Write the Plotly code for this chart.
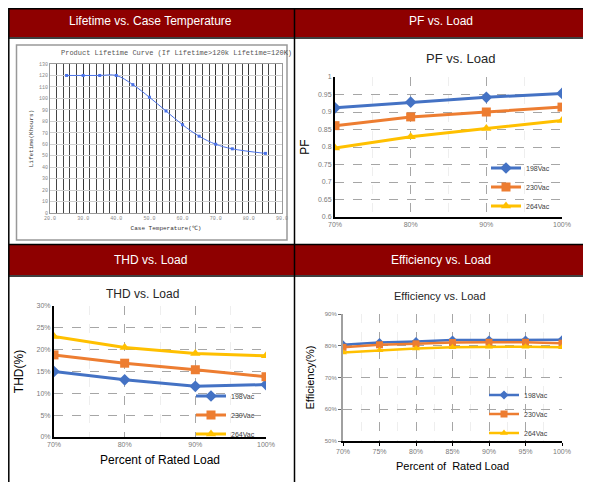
import plotly.graph_objects as go

# ---- data ----
temp = [25, 30, 35, 40, 45, 50, 55, 60, 65, 70, 75, 85]
lifetime = [120, 120, 120, 120, 112, 101, 89, 77, 67, 60, 56, 52]

load4 = [70, 80, 90, 100]
pf_198 = [0.912, 0.928, 0.942, 0.953]
pf_230 = [0.861, 0.886, 0.900, 0.914]
pf_264 = [0.797, 0.829, 0.853, 0.876]

thd_198 = [15.0, 13.1, 11.6, 12.0]
thd_230 = [18.8, 16.9, 15.4, 13.8]
thd_264 = [23.0, 20.5, 19.1, 18.6]

load7 = [70, 75, 80, 85, 90, 95, 100]
eff_198 = [80.3, 81.0, 81.3, 81.8, 81.8, 81.8, 81.9]
eff_230 = [79.5, 80.3, 80.6, 81.0, 81.1, 81.1, 80.8]
eff_264 = [77.9, 78.6, 79.1, 79.5, 79.7, 79.7, 79.5]

series_names = ['198Vac', '230Vac', '264Vac']
series_colors = ['#4472C4', '#ED7D31', '#FFC000']
series_symbols = ['diamond', 'square', 'triangle-up']

# page has an 8px body margin, so the figure is sized to fit the 591x490 window
OFF = 8
W, H = 591 - 2 * OFF, 490 - 2 * OFF
RED = '#8e0000'


def X(px):
    return (px - OFF) / W


def Y(py):
    return 1 - (py - OFF) / H


fig = go.Figure()

# lifetime curve
fig.add_trace(go.Scatter(x=temp, y=lifetime, mode='lines+markers',
                         line=dict(color='#4a72e8', width=1, shape='spline'),
                         marker=dict(symbol='square', size=3, color='#4a72e8'),
                         showlegend=False, xaxis='x', yaxis='y'))

# PF / THD / efficiency
groups = [
    (load4, [pf_198, pf_230, pf_264], 'x2', 'y2', 'legend', 9, 3),
    (load4, [thd_198, thd_230, thd_264], 'x3', 'y3', 'legend2', 9, 3),
    (load7, [eff_198, eff_230, eff_264], 'x4', 'y4', 'legend3', 7, 2.5),
]
for xs, ys, xa, ya, lg, msize, lw in groups:
    for name, vals, col, sym in zip(series_names, ys, series_colors, series_symbols):
        fig.add_trace(go.Scatter(x=xs, y=vals, name=name, mode='lines+markers',
                                 line=dict(color=col, width=lw),
                                 marker=dict(symbol=sym, size=msize, color=col),
                                 xaxis=xa, yaxis=ya, legend=lg))

tick_grey = '#7a7a7a'
dash_grid = dict(showgrid=True, gridcolor='#a6a6a6', griddash='dash', gridwidth=1)

leg_common = dict(xanchor='left', yanchor='middle', bgcolor='rgba(0,0,0,0)',
                  font=dict(size=7, color='#404040', family='Arial'),
                  tracegroupgap=0, itemwidth=30)

fig.update_layout(
    width=W, height=H,
    margin=dict(l=0, r=0, t=0, b=0, autoexpand=False),
    paper_bgcolor='white', plot_bgcolor='white',
    font=dict(family='Arial'),
    # lifetime
    xaxis=dict(domain=[X(50), X(282)], range=[20, 90], dtick=10, tickformat='.1f',
               tickfont=dict(size=5, color='#888', family='Liberation Mono'),
               showgrid=True, gridcolor='#333333', gridwidth=1.3,
               minor=dict(dtick=2, showgrid=True, gridcolor='#444444', gridwidth=1.3),
               showline=True, linecolor='#999', mirror=True, zeroline=False,
               ticks='', title=dict(text='Case Temperature(℃)', standoff=4,
                                    font=dict(size=6, color='#333', family='Liberation Mono'))),
    yaxis=dict(domain=[Y(213), Y(64)], range=[0, 130], dtick=10,
               tickfont=dict(size=5, color='#888', family='Liberation Mono'),
               showgrid=True, gridcolor='#d0d0d0', zeroline=False,
               showline=True, linecolor='#999', mirror=True, ticks='',
               title=dict(text='Lifetime(Khours)', standoff=4,
                          font=dict(size=6, color='#333', family='Liberation Mono'))),
    # PF
    xaxis2=dict(domain=[X(335), X(562)], range=[70, 100], dtick=10, ticksuffix='%',
                anchor='y2', tickfont=dict(size=7, color=tick_grey), zeroline=False,
                showline=True, linecolor='black', linewidth=2, ticks='',
                minor=dict(dtick=5, showgrid=True, gridcolor='#eeeeee'), **dash_grid),
    yaxis2=dict(domain=[Y(217), Y(77)], range=[0.6, 1.0], dtick=0.05, anchor='x2',
                tickfont=dict(size=7, color=tick_grey), zeroline=False,
                showline=True, linecolor='black', linewidth=2, ticks='',
                title=dict(text='PF', standoff=6, font=dict(size=12, color='black')),
                **dash_grid),
    # THD
    xaxis3=dict(domain=[X(54), X(266)], range=[70, 100], dtick=10, ticksuffix='%',
                anchor='y3', tickfont=dict(size=7, color=tick_grey), zeroline=False,
                showline=True, linecolor='black', linewidth=2, ticks='',
                minor=dict(dtick=5, showgrid=True, gridcolor='#eeeeee'),
                title=dict(text='Percent of Rated Load', standoff=8,
                           font=dict(size=12, color='black')), **dash_grid),
    yaxis3=dict(domain=[Y(437), Y(306)], range=[0, 30], dtick=5, ticksuffix='%',
                anchor='x3', tickfont=dict(size=7, color=tick_grey), zeroline=False,
                showline=True, linecolor='black', linewidth=2, ticks='',
                title=dict(text='THD(%)', standoff=10, font=dict(size=12, color='black')),
                **dash_grid),
    # efficiency
    xaxis4=dict(domain=[X(343), X(562)], range=[70, 100], dtick=5, ticksuffix='%',
                anchor='y4', tickfont=dict(size=7, color=tick_grey), zeroline=False,
                showline=True, linecolor='black', linewidth=1.5, ticks='outside',
                ticklen=3, tickcolor='black',
                minor=dict(dtick=2.5, showgrid=True, gridcolor='#eeeeee'),
                title=dict(text='Percent of  Rated Load', standoff=8,
                           font=dict(size=11, color='black')), **dash_grid),
    yaxis4=dict(domain=[Y(441), Y(314)], range=[50, 90], dtick=10, ticksuffix='%',
                anchor='x4', tickfont=dict(size=6, color=tick_grey), zeroline=False,
                showline=True, linecolor='#a0a0a0', linewidth=2, ticks='outside',
                ticklen=3, tickcolor='#666',
                title=dict(text='Efficiency(%)', standoff=8, font=dict(size=11, color='black')),
                **dash_grid),
    legend=dict(x=X(486), y=Y(187), **leg_common),
    legend2=dict(x=X(191), y=Y(415), **leg_common),
    legend3=dict(x=X(484), y=Y(414), **leg_common),
)

# table frame, header bars and lifetime box
edge = OFF + 0.8
shapes = [
    dict(type='rect', x0=X(edge), x1=X(588), y0=Y(37), y1=Y(edge), fillcolor=RED, line_width=0),
    dict(type='rect', x0=X(edge), x1=X(588), y0=Y(275), y1=Y(245), fillcolor=RED, line_width=0),
    dict(type='line', x0=X(edge), x1=X(588), y0=Y(38), y1=Y(38), line=dict(color='black', width=1.5)),
    dict(type='line', x0=X(edge), x1=X(588), y0=Y(244.5), y1=Y(244.5), line=dict(color='black', width=1.5)),
    dict(type='line', x0=X(edge), x1=X(588), y0=Y(276), y1=Y(276), line=dict(color='black', width=1.5)),
    dict(type='line', x0=X(294.5), x1=X(294.5), y0=Y(484), y1=Y(edge), line=dict(color='black', width=1.5)),
    dict(type='rect', x0=X(edge), x1=X(588), y0=Y(484), y1=Y(edge), line=dict(color='black', width=1.5)),
    dict(type='rect', x0=X(16.5), x1=X(287), y0=Y(240), y1=Y(45), line=dict(color='#999999', width=1.5)),
]
for s in shapes:
    s.update(xref='paper', yref='paper', layer='below')
fig.update_layout(shapes=shapes)

headers = [
    ('Lifetime vs. Case Temperature', 150, 21),
    ('PF vs. Load', 441, 21),
    ('THD vs. Load', 150, 260),
    ('Efficiency vs. Load', 441, 260),
]
for txt, hx, hy in headers:
    fig.add_annotation(text=txt, x=X(hx), y=Y(hy), xref='paper', yref='paper',
                       xanchor='center', yanchor='middle', showarrow=False,
                       font=dict(size=12, color='white', family='Arial'))

chart_titles = [
    ('Product Lifetime Curve (If Lifetime>120k Lifetime=120K)', 176, 53, 7, 'Liberation Mono', '#555'),
    ('PF vs. Load', 460, 58, 13, 'Arial', '#262626'),
    ('THD vs. Load', 142, 294, 12, 'Arial', '#262626'),
    ('Efficiency vs. Load', 440, 296, 11, 'Arial', '#262626'),
]
for txt, tx, ty, fs, fam, col in chart_titles:
    fig.add_annotation(text=txt, x=X(tx), y=Y(ty), xref='paper', yref='paper',
                       xanchor='center', yanchor='middle', showarrow=False,
                       font=dict(size=fs, color=col, family=fam))

fig.write_html("out.html")
